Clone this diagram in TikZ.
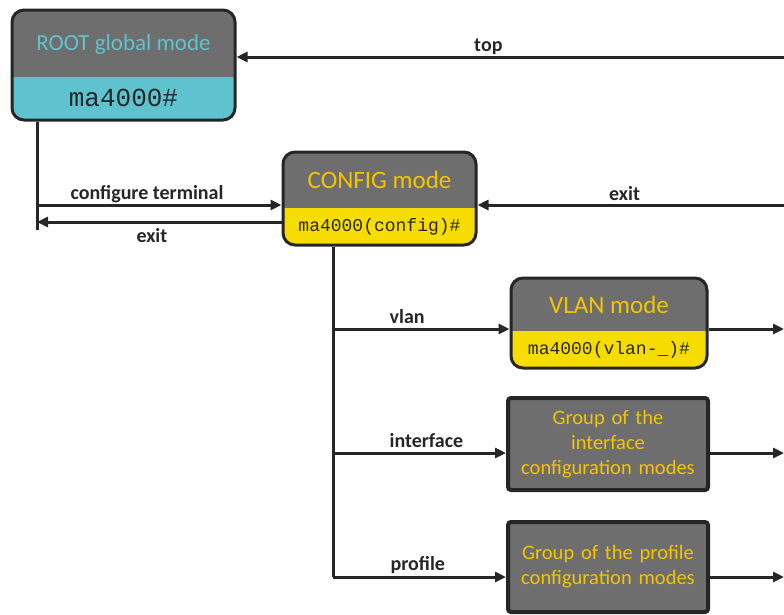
\documentclass[tikz,border=0pt]{standalone}
\usepackage{fontspec}
\setmainfont{Carlito}
\newfontfamily\promptfont{Liberation Mono}
\usetikzlibrary{calc,positioning,arrows.meta}

\definecolor{modegray}{HTML}{6E6E6E}
\definecolor{rootcyan}{HTML}{5EC3CF}
\definecolor{cfgyellow}{HTML}{F7DC00}
\definecolor{titleyellow}{HTML}{F5C400}
\definecolor{edgedark}{HTML}{262626}

\tikzset{
  modebox/.style={draw=edgedark, line width=3pt, fill=modegray, rounded corners=12pt, inner sep=0pt},
  groupbox/.style={draw=edgedark, line width=4pt, fill=modegray, rounded corners=3pt, inner sep=0pt,
    minimum width=200pt, text width=196pt, align=center, text=titleyellow, font=\fontsize{20.5}{25}\selectfont},
  lowpart/.style 2 args={path picture={\fill[#1, sharp corners] (path picture bounding box.south west) rectangle ([yshift=#2]path picture bounding box.south east);}},
  modetitle/.style={font=\fontsize{25}{28}\selectfont},
  prompttext/.style={font=\promptfont\fontsize{18}{20}\selectfont, text=edgedark},
  link/.style={draw=edgedark, line width=3pt},
  arrow/.style={link, -{Triangle[length=11pt,width=10pt]}},
  lbl/.style={font=\bfseries\fontsize{20}{22}\selectfont, text=edgedark, inner sep=1pt}
}

\begin{document}
\begin{tikzpicture}[x=1pt,y=-1pt]
\useasboundingbox (0,0) rectangle (784,614);
%\draw[help lines] (0,0) grid[step=50] (784,614);

% mode boxes
\node[modebox, lowpart={rootcyan}{43pt}, minimum width=223pt, minimum height=110pt] (root) at (123.5,65) {};
\node[modebox, lowpart={cfgyellow}{37pt}, minimum width=193pt, minimum height=93pt] (cfg) at (379.5,198.5) {};
\node[modebox, lowpart={cfgyellow}{37pt}, minimum width=196pt, minimum height=90pt] (vlan) at (609,323) {};
\node[groupbox, minimum height=92pt] (grpI) at (608,444) {Group of the\\interface\\configuration modes};
\node[groupbox, minimum height=90pt] (grpP) at (608,567) {Group of the profile\\configuration modes};

\node[modetitle, text=rootcyan, font=\fontsize{23}{26}\selectfont] (rootT) at (123.5,44) {ROOT global mode};
\node[prompttext, font=\promptfont\fontsize{26}{28}\selectfont] (rootP) at (123.5,98) {ma4000\#};
\node[modetitle, text=titleyellow] (cfgT) at (379.5,180) {CONFIG mode};
\node[prompttext] (cfgP) at (379.5,227) {ma4000(config)\#};
\node[modetitle, text=titleyellow] (vlanT) at (609,305) {VLAN mode};
\node[prompttext] (vlanP) at (609,350) {ma4000(vlan-\_)\#};

% trunks and free ends
\coordinate (rootTrunk) at (37,230);
\coordinate (cfgTrunk) at (333,577);
\coordinate (topR) at (784,57);
\coordinate (exitR) at (784,205);
\coordinate (ctL) at (37,205);
\coordinate (exitL) at (37,222);
\coordinate (vlanR) at (784,329);
\coordinate (grpIR) at (784,453);
\coordinate (grpPR) at (784,577);

\draw[link] (rootTrunk |- root.south) -- (rootTrunk);
\draw[link] (cfgTrunk |- cfg.south) -- (cfgTrunk);

\draw[arrow] (topR) -- (topR -| root.east) node[lbl, pos=0.54, above] {top};
\draw[arrow] (ctL) -- (ctL -| cfg.west) node[lbl, pos=0.45, above] {configure terminal};
\draw[arrow] (exitL -| cfg.west) -- (exitL) node[lbl, pos=0.53, below=4pt] {exit};
\draw[arrow] (exitR) -- (exitR -| cfg.east) node[lbl, pos=0.52, above=2pt] {exit};

\draw[arrow] (cfgTrunk |- vlanR) -- (vlanR -| vlan.west) node[lbl, pos=0.42, above=3pt] {vlan};
\draw[arrow] (cfgTrunk |- grpIR) -- (grpIR -| grpI.west) node[lbl, pos=0.54, above=3pt] {interface};
\draw[arrow] (cfgTrunk |- grpPR) -- (grpPR -| grpP.west) node[lbl, pos=0.49, above=1pt] {profile};

\draw[arrow] (vlanR -| vlan.east) -- (vlanR);
\draw[arrow] (grpIR -| grpI.east) -- (grpIR);
\draw[arrow] (grpPR -| grpP.east) -- (grpPR);
\end{tikzpicture}
\end{document}
